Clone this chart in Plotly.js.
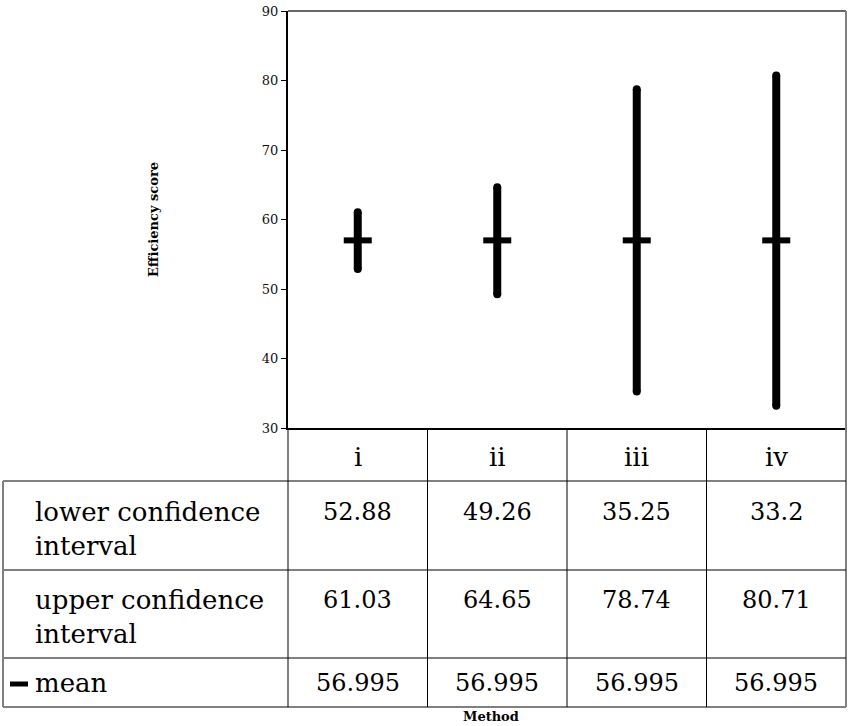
<!DOCTYPE html>
<html>
<head>
<meta charset="utf-8">
<script src="https://cdn.plot.ly/plotly-3.0.1.min.js"></script>
<style>html,body{margin:0;padding:0;background:#fff;}</style>
</head>
<body>
<div id="chart" style="width:848px;height:726px;"></div>
<script>
// ---- data ----
const categories = ["i", "ii", "iii", "iv"];
const lowerCI = [52.88, 49.26, 35.25, 33.2];
const upperCI = [61.03, 64.65, 78.74, 80.71];
const meanVals = [56.995, 56.995, 56.995, 56.995];
const rowLabels = [["lower confidence", "interval"], ["upper confidence", "interval"], ["mean"]];
const rowValues = [lowerCI, upperCI, meanVals];
const yTicks = [30, 40, 50, 60, 70, 80, 90];

// ---- geometry helpers (pixel -> paper) ----
const W = 848, H = 726, ML = 288, MR = 2, MT = 11, MB = 298;
const PW = W - ML - MR, PH = H - MT - MB;
const px = v => (v - ML) / PW;
const py = v => (H - MB - v) / PH;

// ---- traces ----
const xs = [], ys = [];
categories.forEach((c, i) => { xs.push(c, c, null); ys.push(lowerCI[i], upperCI[i], null); });
const serif = "DejaVu Serif, serif";

const ciTrace = {
  type: "scatter", mode: "lines+markers", x: xs, y: ys,
  line: {color: "#000", width: 8},
  marker: {color: "#000", size: 8, symbol: "circle"},
  hoverinfo: "skip", showlegend: false
};
const meanTrace = {
  type: "scatter", mode: "markers", x: categories, y: meanVals, name: "mean",
  marker: {symbol: "line-ew", size: 20, line: {color: "#000", width: 6}},
  showlegend: false
};

// ---- table geometry ----
const yHead = py(481), yR1 = py(570), yR2 = py(658), yBot = py(707);
const xLeft = px(3);
const shapes = [];
const black = "#000", gray = "#808080";
shapes.push({type: "line", xref: "paper", yref: "paper", x0: 0, x1: 1, y0: 1, y1: 1, line: {color: "#333", width: 1.5}});
shapes.push({type: "line", xref: "paper", yref: "paper", x0: 1, x1: 1, y0: 1, y1: yBot, line: {color: gray, width: 2}});
[yHead, yR1, yR2].forEach(y => shapes.push({type: "line", xref: "paper", yref: "paper", x0: xLeft, x1: 1, y0: y, y1: y, line: {color: black, width: 1}}));
shapes.push({type: "line", xref: "paper", yref: "paper", x0: xLeft, x1: 1, y0: yBot, y1: yBot, line: {color: gray, width: 2}});
shapes.push({type: "line", xref: "paper", yref: "paper", x0: xLeft, x1: xLeft, y0: yHead, y1: yBot, line: {color: gray, width: 2}});
shapes.push({type: "line", xref: "paper", yref: "paper", x0: 0, x1: 0, y0: 0, y1: yBot, line: {color: black, width: 1}});
for (let k = 0; k < categories.length - 1; k++) {
  shapes.push({type: "line", xref: "x", yref: "paper", x0: k + 0.5, x1: k + 0.5, y0: 0, y1: yBot, line: {color: black, width: 1}});
}
shapes.push({type: "line", xref: "paper", yref: "paper", x0: px(10), x1: px(28), y0: py(684), y1: py(684), line: {color: black, width: 5}});

// ---- annotations ----
const ann = [];
const tfont = {family: serif, size: 24, color: "#000"};
const lfont = {family: serif, size: 26, color: "#000"};
categories.forEach((c, i) => ann.push({xref: "x", yref: "paper", x: i, y: py(457), text: c, showarrow: false, font: lfont, xanchor: "center", yanchor: "middle"}));
const rowCenters = [[512, 546], [600, 634], [683]];
rowLabels.forEach((lines, r) => {
  lines.forEach((t, l) => ann.push({xref: "paper", yref: "paper", x: px(33), y: py(rowCenters[r][l]), text: t, showarrow: false, font: lfont, xanchor: "left", yanchor: "middle"}));
  rowValues[r].forEach((v, i) => ann.push({xref: "x", yref: "paper", x: i, y: py(rowCenters[r][0]), text: String(v), showarrow: false, font: tfont, xanchor: "center", yanchor: "middle"}));
});
ann.push({xref: "paper", yref: "paper", x: px(491), y: py(716), text: "<b>Method</b>", showarrow: false, font: {family: serif, size: 13, color: "#000"}, xanchor: "center", yanchor: "middle"});

const layout = {
  width: W, height: H,
  margin: {l: ML, r: MR, t: MT, b: MB, pad: 0},
  paper_bgcolor: "#fff", plot_bgcolor: "#fff",
  showlegend: false,
  xaxis: {type: "category", range: [-0.5, 3.5], showticklabels: false, ticks: "", showgrid: false, zeroline: false,
          showline: true, linecolor: "#000", linewidth: 1.5, fixedrange: true},
  yaxis: {range: [30, 90], tickvals: yTicks, ticks: "outside", ticklen: 5, tickcolor: "#000", tickwidth: 1,
          showgrid: false, zeroline: false, showline: true, linecolor: "#000", linewidth: 2,
          tickfont: {family: serif, size: 13, color: "#111"},
          title: {text: "<b>Efficiency score</b>", font: {family: serif, size: 13, color: "#000"}, standoff: 100},
          fixedrange: true},
  shapes: shapes,
  annotations: ann
};

Plotly.newPlot("chart", [ciTrace, meanTrace], layout, {displayModeBar: false, staticPlot: true});
</script>
</body>
</html>
